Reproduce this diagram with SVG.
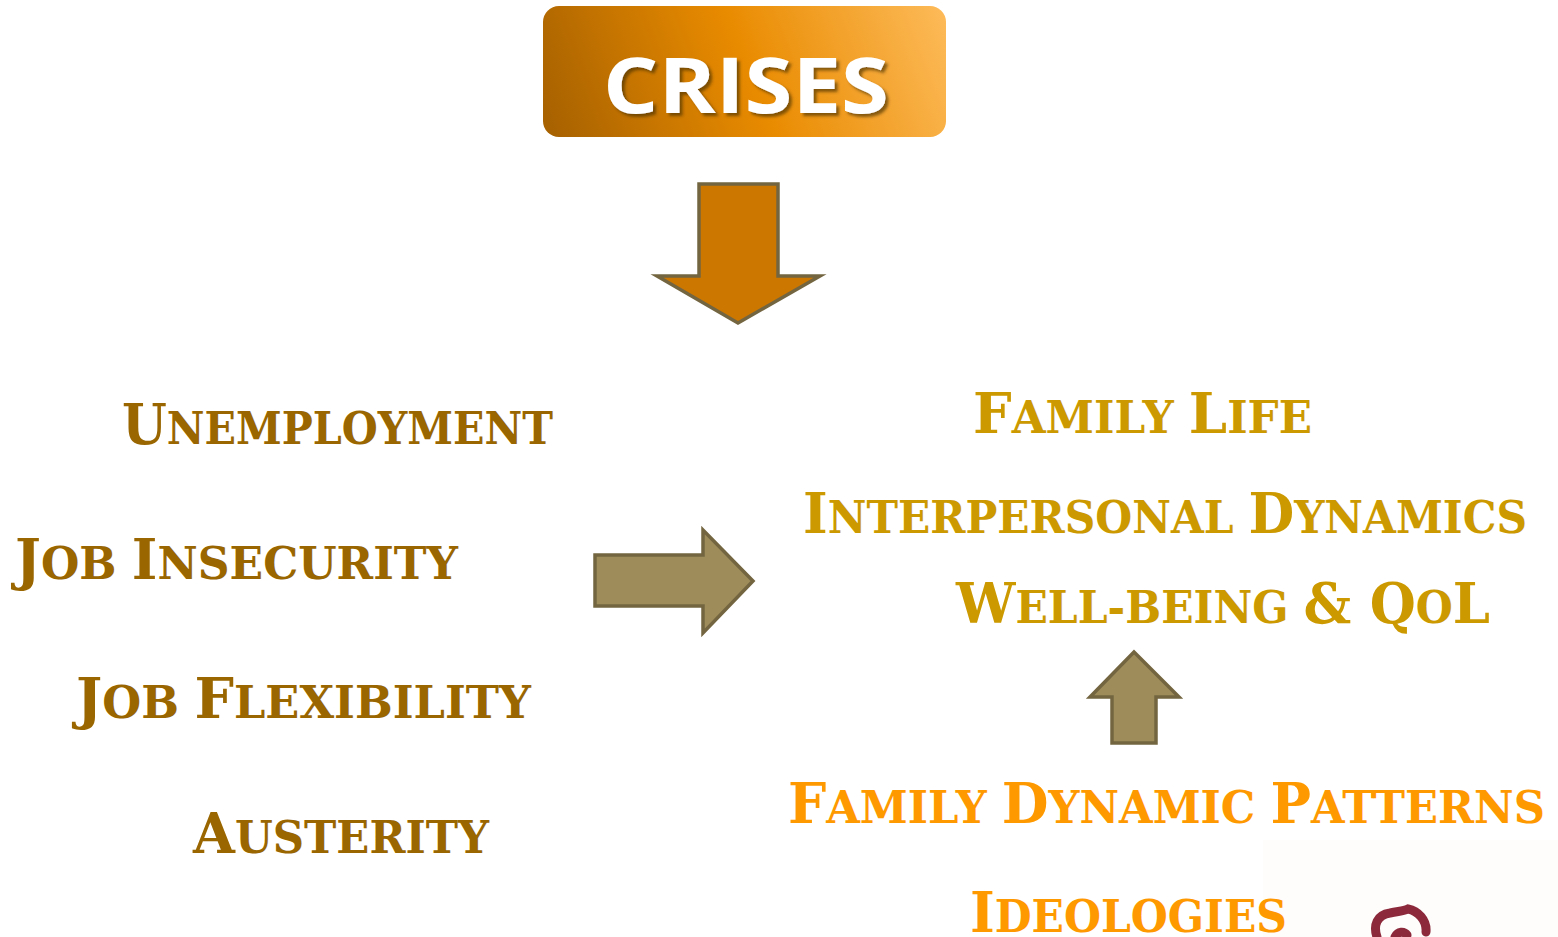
<svg xmlns="http://www.w3.org/2000/svg" width="1558" height="937" viewBox="0 0 1558 937">
  <style>
    .lbl { font-family: "DejaVu Serif", "Liberation Serif", serif; font-weight: bold; }
    .left { fill: #996600; }
    .mid { fill: #CC9900; }
    .low { fill: #FF9900; }
    .big { font-size: 56px; }
    .sm { font-size: 45px; }
    .arrow-olive { fill: #9E8C5A; stroke: #736540; stroke-width: 3.5; stroke-linejoin: miter; }
    .arrow-orange { fill: #CC7700; stroke: #736540; stroke-width: 3.5; stroke-linejoin: miter; }
  </style>
  <defs>
    <linearGradient id="crisesFill" gradientUnits="userSpaceOnUse" x1="560" y1="150" x2="940" y2="0">
      <stop offset="0" stop-color="#A86200"/>
      <stop offset="0.5" stop-color="#E98B00"/>
      <stop offset="1" stop-color="#FDBA58"/>
    </linearGradient>
    <filter id="txtShadow" x="-10%" y="-20%" width="130%" height="150%">
      <feDropShadow dx="3" dy="3" stdDeviation="1.5" flood-color="#4A2E00" flood-opacity="0.65"/>
    </filter>
  </defs>

  <rect width="1558" height="937" fill="#FFFFFF"/>
  <!-- faint panel behind the corner mark -->
  <rect x="1263" y="840" width="295" height="97" fill="#FEFDFB"/>

  <!-- top node -->
  <g id="crises">
    <rect x="543" y="6" width="403" height="131" rx="16" ry="16" fill="url(#crisesFill)"/>
    <text x="603" y="113" textLength="286" lengthAdjust="spacingAndGlyphs" font-family="'Open Sans', 'Liberation Sans', sans-serif" font-weight="bold" font-size="77" fill="#FFFFFF" filter="url(#txtShadow)">CRISES</text>
  </g>

  <!-- connectors -->
  <g id="connectors">
    <path class="arrow-orange" d="M699,184 H778 V276 H820 L738,323 L657,276 H699 Z"/>
    <path class="arrow-olive" d="M595,555 H703 V530 L753,581 L703,633 V606 H595 Z"/>
    <path class="arrow-olive" d="M1134,652 L1179,697 H1156 V743 H1112 V697 H1090 Z"/>
  </g>

  <!-- left column -->
  <g id="unemployment">
    <text class="lbl left" x="122" y="444" textLength="431" lengthAdjust="spacingAndGlyphs"><tspan class="big">U</tspan><tspan class="sm">NEMPLOYMENT</tspan></text>
  </g>
  <g id="job-insecurity">
    <text class="lbl left" x="15" y="579" textLength="443" lengthAdjust="spacingAndGlyphs"><tspan class="big">J</tspan><tspan class="sm">OB </tspan><tspan class="big">I</tspan><tspan class="sm">NSECURITY</tspan></text>
  </g>
  <g id="job-flexibility">
    <text class="lbl left" x="76" y="718" textLength="455" lengthAdjust="spacingAndGlyphs"><tspan class="big">J</tspan><tspan class="sm">OB </tspan><tspan class="big">F</tspan><tspan class="sm">LEXIBILITY</tspan></text>
  </g>
  <g id="austerity">
    <text class="lbl left" x="193" y="853" textLength="296" lengthAdjust="spacingAndGlyphs"><tspan class="big">A</tspan><tspan class="sm">USTERITY</tspan></text>
  </g>

  <!-- right column -->
  <g id="family-life">
    <text class="lbl mid" x="973" y="433" textLength="339" lengthAdjust="spacingAndGlyphs"><tspan class="big">F</tspan><tspan class="sm">AMILY </tspan><tspan class="big">L</tspan><tspan class="sm">IFE</tspan></text>
  </g>
  <g id="interpersonal-dynamics">
    <text class="lbl mid" x="803" y="533" textLength="724" lengthAdjust="spacingAndGlyphs"><tspan class="big">I</tspan><tspan class="sm">NTERPERSONAL </tspan><tspan class="big">D</tspan><tspan class="sm">YNAMICS</tspan></text>
  </g>
  <g id="well-being">
    <text class="lbl mid" x="956" y="623" textLength="534" lengthAdjust="spacingAndGlyphs"><tspan class="big">W</tspan><tspan class="sm">ELL-BEING </tspan><tspan class="big">&amp; Q</tspan><tspan class="sm">O</tspan><tspan class="big">L</tspan></text>
  </g>
  <g id="family-dynamic-patterns">
    <text class="lbl low" x="788" y="823" textLength="757" lengthAdjust="spacingAndGlyphs"><tspan class="big">F</tspan><tspan class="sm">AMILY </tspan><tspan class="big">D</tspan><tspan class="sm">YNAMIC </tspan><tspan class="big">P</tspan><tspan class="sm">ATTERNS</tspan></text>
  </g>
  <g id="ideologies">
    <text class="lbl low" x="970" y="932" textLength="317" lengthAdjust="spacingAndGlyphs"><tspan class="big">I</tspan><tspan class="sm">DEOLOGIES</tspan></text>
  </g>

  <!-- corner mark -->
  <g id="corner-mark" fill="none" stroke="#8C2A3C" stroke-width="9" stroke-linecap="round">
    <path d="M1377,937 C1373,925 1377,915 1390,913 C1400,911 1404,911 1408,909 C1418,911 1427,920 1426,932"/>
    <path d="M1395,937 C1398,931 1404,931 1407,935"/>
  </g>
</svg>
